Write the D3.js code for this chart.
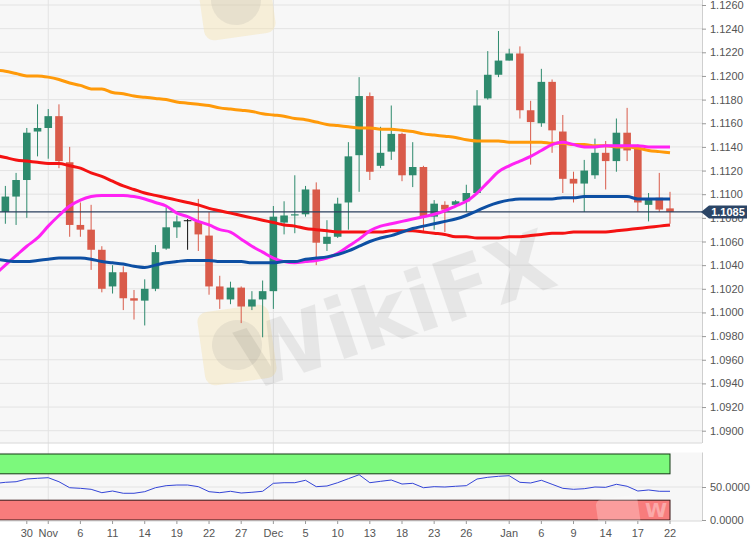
<!DOCTYPE html>
<html>
<head>
<meta charset="utf-8">
<script src="https://cdn.jsdelivr.net/npm/d3@7"></script>
<style>
  body { margin: 0; background: #fff; }
  svg { display: block; font-family: "Liberation Sans", Arial, sans-serif; }
</style>
</head>
<body>
<div id="chart"></div>
<script>
// daily dates (first one only feeds the averages, candles start on Oct 28)
const dates = [
  "2019-10-25","2019-10-28","2019-10-29","2019-10-30","2019-10-31","2019-11-01",
  "2019-11-04","2019-11-05","2019-11-06","2019-11-07","2019-11-08",
  "2019-11-11","2019-11-12","2019-11-13","2019-11-14","2019-11-15",
  "2019-11-18","2019-11-19","2019-11-20","2019-11-21","2019-11-22",
  "2019-11-25","2019-11-26","2019-11-27","2019-11-28","2019-11-29",
  "2019-12-02","2019-12-03","2019-12-04","2019-12-05","2019-12-06",
  "2019-12-09","2019-12-10","2019-12-11","2019-12-12","2019-12-13",
  "2019-12-16","2019-12-17","2019-12-18","2019-12-19","2019-12-20",
  "2019-12-23","2019-12-24","2019-12-25","2019-12-26","2019-12-27",
  "2019-12-30","2019-12-31","2020-01-01","2020-01-02","2020-01-03",
  "2020-01-06","2020-01-07","2020-01-08","2020-01-09","2020-01-10",
  "2020-01-13","2020-01-14","2020-01-15","2020-01-16","2020-01-17",
  "2020-01-20","2020-01-21","2020-01-22"
];
const candleDates = dates.slice(1);

const opens = [1.1085,1.1098,1.1112,1.1153,1.1156,1.1166,1.1127,1.1074,1.1070,1.1053,
  1.1022,1.1034,1.1012,1.1010,1.1020,1.1054,1.1072,1.1078,1.1077,1.1065,
  1.1022,1.1011,1.1021,1.1005,1.1011,1.1018,1.1076,1.1082,1.1083,1.1104,
  1.1058,1.1064,1.1093,1.1133,1.1183,1.1124,1.1136,1.1151,1.1116,1.1123,
  1.1081,1.1091,1.1091,1.1094,1.1101,1.1181,1.1201,1.1213,1.1219,1.1171,
  1.1160,1.1195,1.1153,1.1113,1.1109,1.1116,1.1135,1.1128,1.1152,1.1139,
  1.1091,1.1097,1.1088];
const highs = [1.1107,1.1118,1.1156,1.1176,1.1172,1.1176,1.1140,1.1093,1.1091,1.1056,
  1.1040,1.1039,1.1019,1.1028,1.1057,1.1089,1.1082,1.1079,1.1096,1.1085,
  1.1031,1.1026,1.1022,1.1018,1.1027,1.1090,1.1094,1.1116,1.1107,1.1110,
  1.1078,1.1097,1.1144,1.1199,1.1186,1.1157,1.1175,1.1152,1.1144,1.1124,
  1.1095,1.1094,1.1095,1.1108,1.1188,1.1221,1.1238,1.1223,1.1225,1.1179,
  1.1206,1.1197,1.1167,1.1119,1.1129,1.1147,1.1145,1.1164,1.1173,1.1142,
  1.1101,1.1118,1.1102];
const lows = [1.1075,1.1074,1.1080,1.1132,1.1130,1.1122,1.1064,1.1064,1.1036,1.1017,
  1.1016,1.1002,1.0994,1.0989,1.1018,1.1053,1.1063,1.1053,1.1052,1.1015,
  1.1003,1.1007,1.0991,1.1002,1.0979,1.1003,1.1066,1.1067,1.1081,1.1040,
  1.1052,1.1063,1.1070,1.1102,1.1112,1.1122,1.1129,1.1111,1.1106,1.1068,
  1.1070,1.1068,1.1090,1.1085,1.1100,1.1180,1.1199,1.1213,1.1164,1.1125,
  1.1157,1.1135,1.1101,1.1093,1.1085,1.1113,1.1104,1.1119,1.1128,1.1085,
  1.1077,1.1085,1.1075];
const closes = [1.1098,1.1112,1.1152,1.1156,1.1166,1.1128,1.1074,1.1070,1.1053,1.1020,
  1.1034,1.1012,1.1010,1.1020,1.1051,1.1072,1.1077,1.1078,1.1066,1.1022,
  1.1011,1.1021,1.1005,1.1011,1.1018,1.1081,1.1082,1.1083,1.1104,1.1059,
  1.1064,1.1092,1.1132,1.1183,1.1119,1.1135,1.1151,1.1116,1.1123,1.1081,
  1.1092,1.1087,1.1094,1.1101,1.1175,1.1201,1.1213,1.1219,1.1171,1.1161,
  1.1195,1.1154,1.1113,1.1109,1.1120,1.1135,1.1128,1.1152,1.1137,1.1093,
  1.1096,1.1087,1.1085];

// moving averages, one value per date
const sma200 = [1.1205,1.1204,1.1202,1.1200,1.1200,1.1199,1.1197,1.1194,1.1192,1.1189,1.1189,
  1.1186,1.1185,1.1183,1.1182,1.1181,1.1180,1.1178,1.1177,1.1176,1.1175,
  1.1173,1.1172,1.1171,1.1170,1.1168,1.1167,1.1166,1.1164,1.1163,1.1161,
  1.1159,1.1158,1.1157,1.1156,1.1156,1.1155,1.1155,1.1154,1.1153,1.1151,
  1.1150,1.1149,1.1148,1.1146,1.1145,1.1145,1.1145,1.1144,1.1144,1.1144,
  1.1144,1.1143,1.1143,1.1142,1.1142,1.1141,1.1141,1.1140,1.1140,1.1139,
  1.1137,1.1136,1.1135];
const sma100 = [1.1133,1.1131,1.1129,1.1128,1.1127,1.1126,1.1126,1.1124,1.1122,1.1118,1.1115,
  1.1111,1.1107,1.1104,1.1101,1.1099,1.1097,1.1095,1.1093,1.1091,1.1088,
  1.1086,1.1084,1.1082,1.1080,1.1078,1.1076,1.1074,1.1073,1.1071,1.1070,
  1.1069,1.1068,1.1068,1.1068,1.1068,1.1068,1.1069,1.1069,1.1069,1.1068,
  1.1067,1.1066,1.1064,1.1064,1.1063,1.1063,1.1063,1.1064,1.1064,1.1065,
  1.1066,1.1067,1.1067,1.1068,1.1068,1.1068,1.1068,1.1069,1.1070,1.1071,
  1.1072,1.1073,1.1074];
const sma50 = [1.1045,1.1044,1.1043,1.1043,1.1044,1.1045,1.1046,1.1046,1.1046,1.1045,1.1043,
  1.1042,1.1041,1.1039,1.1038,1.1040,1.1042,1.1043,1.1044,1.1044,1.1044,
  1.1043,1.1043,1.1043,1.1042,1.1042,1.1042,1.1043,1.1043,1.1045,1.1046,
  1.1047,1.1049,1.1052,1.1056,1.1060,1.1063,1.1065,1.1068,1.1071,1.1073,
  1.1075,1.1077,1.1079,1.1082,1.1086,1.1090,1.1093,1.1095,1.1096,1.1096,
  1.1096,1.1096,1.1097,1.1097,1.1098,1.1098,1.1098,1.1098,1.1098,1.1096,
  1.1096,1.1096,1.1096];
const sma20 = [1.1032,1.1040,1.1048,1.1056,1.1063,1.1073,1.1082,1.1090,1.1095,1.1098,1.1099,
  1.1099,1.1099,1.1098,1.1096,1.1093,1.1090,1.1084,1.1081,1.1077,1.1074,
  1.1070,1.1068,1.1062,1.1056,1.1051,1.1046,1.1043,1.1042,1.1043,1.1044,
  1.1046,1.1050,1.1056,1.1062,1.1069,1.1073,1.1075,1.1077,1.1079,1.1081,
  1.1083,1.1086,1.1090,1.1094,1.1101,1.1110,1.1119,1.1124,1.1128,1.1132,
  1.1137,1.1142,1.1144,1.1142,1.1140,1.1140,1.1141,1.1141,1.1141,1.1141,
  1.1140,1.1140,1.1140];

// RSI, one value per date
const rsi = [55.3,57.1,58.0,62.1,63.2,64.1,58.0,48.9,48.0,46.5,41.4,
  43.9,40.5,40.5,42.9,48.9,52.0,53.0,53.0,50.5,42.9,
  41.4,43.5,40.9,42.0,43.5,55.6,56.5,56.5,60.2,50.5,
  51.5,56.5,62.6,68.6,56.5,58.6,60.6,54.5,55.6,48.9,
  50.5,50.0,51.1,52.0,62.1,64.7,66.2,67.1,57.1,56.1,
  60.2,54.1,48.0,46.5,47.4,50.0,49.5,54.1,51.1,43.9,
  45.5,43.5,43.5];

const priceTicks = [1.0900,1.0920,1.0940,1.0960,1.0980,1.1000,1.1020,1.1040,1.1060,1.1080,
  1.1100,1.1120,1.1140,1.1160,1.1180,1.1200,1.1220,1.1240,1.1260];
const rsiTicks = [0, 50];
const tickDates = ["2019-10-30","2019-11-01","2019-11-06","2019-11-11","2019-11-14","2019-11-19",
  "2019-11-22","2019-11-27","2019-12-02","2019-12-05","2019-12-10","2019-12-13","2019-12-18",
  "2019-12-23","2019-12-26","2020-01-01","2020-01-06","2020-01-09","2020-01-14","2020-01-17","2020-01-22"];
const tickLabels = ["30","Nov","6","11","14","19","22","27","Dec","5","10","13","18",
  "23","26","Jan","6","9","14","17","22"];
const monthStarts = ["2019-11-01","2019-12-02","2020-01-01"];
const lastPrice = 1.1085;

const W = 756, H = 545;
const plotRight = 702;
const mainTop = 0, mainBottom = 443;
const lowTop = 452.5, lowBottom = 521;
const step = 10.72;

const svg = d3.select("#chart").append("svg")
  .attr("width", W)
  .attr("height", H);

const x = d3.scaleBand()
  .domain(dates)
  .range([-step, (dates.length - 1) * step])
  .padding(0);
const cx = d => x(d) + x.bandwidth() / 2;

const y = d3.scaleLinear().domain([1.0900, 1.1260]).range([430.7, 5]);
const yr = d3.scaleLinear().domain([0, 100]).range([520, 454]);

const defs = svg.append("defs");
defs.append("clipPath").attr("id", "clipMain")
  .append("rect").attr("x", 0).attr("y", mainTop).attr("width", plotRight).attr("height", mainBottom - mainTop);
defs.append("clipPath").attr("id", "clipLow")
  .append("rect").attr("x", 0).attr("y", lowTop).attr("width", plotRight).attr("height", lowBottom - lowTop);

// panel backgrounds
svg.append("rect").attr("x", 0).attr("y", mainTop).attr("width", plotRight)
  .attr("height", mainBottom - mainTop).attr("fill", "#f7f7f7");
svg.append("rect").attr("x", 0).attr("y", lowTop).attr("width", plotRight)
  .attr("height", lowBottom - lowTop).attr("fill", "#f7f7f7");

// grid
svg.append("g").selectAll("line").data(priceTicks).enter().append("line")
  .attr("x1", 0).attr("x2", plotRight)
  .attr("y1", d => y(d)).attr("y2", d => y(d))
  .attr("stroke", "#e3e3e3").attr("stroke-width", 1);
svg.append("line").attr("x1", 0).attr("x2", plotRight)
  .attr("y1", yr(50)).attr("y2", yr(50)).attr("stroke", "#e3e3e3");
svg.append("g").selectAll("line").data(monthStarts).enter().append("line")
  .attr("x1", cx).attr("x2", cx)
  .attr("y1", mainTop).attr("y2", lowBottom)
  .attr("stroke", "#e3e3e3").attr("stroke-width", 1);
svg.append("line").attr("x1", 0).attr("x2", plotRight)
  .attr("y1", mainBottom).attr("y2", mainBottom).attr("stroke", "#d8d8d8");

// watermark
const wm = svg.append("g").attr("clip-path", "url(#clipMain)");
[[237, 345], [236, 0]].forEach(p => {
  const g = wm.append("g").attr("transform", `translate(${p[0]},${p[1]}) rotate(-8)`);
  g.append("rect").attr("x", -36).attr("y", -37).attr("width", 72).attr("height", 74)
    .attr("rx", 10).attr("fill", "#f3e2b2").attr("opacity", 0.45);
  g.append("circle").attr("r", 25).attr("fill", "#8c8c8c").attr("opacity", 0.14);
});
wm.append("text")
  .attr("transform", "translate(405,338) rotate(-19)")
  .attr("text-anchor", "middle")
  .attr("font-family", "DejaVu Sans")
  .attr("font-weight", "bold")
  .attr("font-size", 84)
  .attr("fill", "#000")
  .attr("opacity", 0.062)
  .text("WikiFX");

const candles = candleDates.map((d, i) => ({
  date: d, o: opens[i], h: highs[i], l: lows[i], c: closes[i]
}));
const candleColor = d => d.c > d.o ? "#2e8a6d" : (d.c < d.o ? "#d95b4a" : "#111");
const bw = 7.6;

const main = svg.append("g").attr("clip-path", "url(#clipMain)");

// wicks
main.selectAll(".wick").data(candles).enter().append("line")
  .attr("class", "wick")
  .attr("x1", d => cx(d.date)).attr("x2", d => cx(d.date))
  .attr("y1", d => y(d.h)).attr("y2", d => y(d.l))
  .attr("stroke", candleColor).attr("stroke-width", 1);

// bodies
main.selectAll(".body").data(candles).enter().append("rect")
  .attr("class", "body")
  .attr("x", d => cx(d.date) - bw / 2)
  .attr("width", bw)
  .attr("y", d => y(Math.max(d.o, d.c)))
  .attr("height", d => Math.max(1, Math.abs(y(d.o) - y(d.c))))
  .attr("fill", candleColor);

// last price line
main.append("line").attr("x1", 0).attr("x2", plotRight)
  .attr("y1", y(lastPrice)).attr("y2", y(lastPrice))
  .attr("stroke", "#2a3f5e").attr("stroke-width", 1.2);

// moving averages
const line = d3.line()
  .x((d, i) => cx(dates[i]))
  .y(d => y(d))
  .curve(d3.curveMonotoneX);
[[sma200, "#ff9a0a"], [sma100, "#f41212"], [sma20, "#ff22f4"], [sma50, "#0d4fa3"]].forEach(s => {
  main.append("path").datum(s[0])
    .attr("d", line)
    .attr("fill", "none")
    .attr("stroke", s[1])
    .attr("stroke-width", 3)
    .attr("stroke-linejoin", "round");
});

// right price axis
const yAxis = svg.append("g")
  .attr("transform", `translate(${plotRight},0)`)
  .call(d3.axisRight(y).tickValues(priceTicks).tickFormat(d3.format(".4f")).tickSize(4).tickPadding(4));
yAxis.select(".domain").attr("stroke", "#cfcfcf").attr("d", `M0.5,${mainTop}V${mainBottom}`);

// last price label
const ly = y(lastPrice);
svg.append("path")
  .attr("d", `M${plotRight - 1},${ly}L${plotRight + 7},${ly - 6.5}H${plotRight + 45}V${ly + 6.5}H${plotRight + 7}Z`)
  .attr("fill", "#2b4566");
svg.append("text")
  .attr("x", plotRight + 26).attr("y", ly + 4)
  .attr("text-anchor", "middle")
  .attr("font-size", 11).attr("font-weight", "bold")
  .attr("fill", "#fff")
  .text(d3.format(".4f")(lastPrice));

// lower panel: RSI
const low = svg.append("g").attr("clip-path", "url(#clipLow)");
const lastX = cx(candleDates[candleDates.length - 1]);
low.append("rect").attr("x", -1).attr("width", lastX + 1)
  .attr("y", yr(100)).attr("height", yr(70) - yr(100))
  .attr("fill", "#7cf97c").attr("stroke", "#163a16").attr("stroke-width", 1);
low.append("rect").attr("x", -1).attr("width", lastX + 1)
  .attr("y", yr(30)).attr("height", yr(0) - yr(30))
  .attr("fill", "#f87c7c").attr("stroke", "#3a1616").attr("stroke-width", 1);

// faint watermark on the lower panel
low.append("rect").attr("x", 598).attr("y", 497).attr("width", 42).attr("height", 44)
  .attr("rx", 6).attr("fill", "#fff").attr("opacity", 0.25)
  .attr("transform", "rotate(-8,619,519)");
low.append("text").attr("x", 645).attr("y", 517)
  .attr("font-family", "DejaVu Sans").attr("font-weight", "bold").attr("font-size", 20)
  .attr("fill", "#fff").attr("opacity", 0.35).text("W");

const rsiLine = d3.line()
  .x((d, i) => cx(dates[i]))
  .y(d => yr(d));
low.append("path").datum(rsi)
  .attr("d", rsiLine)
  .attr("fill", "none")
  .attr("stroke", "#3344d6")
  .attr("stroke-width", 1);

const rAxis = svg.append("g")
  .attr("transform", `translate(${plotRight},0)`)
  .call(d3.axisRight(yr).tickValues(rsiTicks).tickFormat(d3.format(".4f")).tickSize(4).tickPadding(4));
rAxis.select(".domain").attr("stroke", "#cfcfcf").attr("d", `M0.5,${lowTop}V${lowBottom}`);
svg.append("line").attr("x1", 0).attr("x2", plotRight)
  .attr("y1", lowBottom).attr("y2", lowBottom).attr("stroke", "#d8d8d8");

// bottom date axis
const xAxis = svg.append("g")
  .attr("transform", `translate(0,${lowBottom})`)
  .call(d3.axisBottom(x).tickValues(tickDates).tickFormat((d, i) => tickLabels[i]).tickSize(3).tickPadding(5));
xAxis.select(".domain").remove();

[yAxis, rAxis, xAxis].forEach(a => {
  a.selectAll("text").attr("font-size", 11).attr("fill", "#555")
    .attr("font-family", "Liberation Sans, Arial, sans-serif");
  a.selectAll(".tick line").attr("stroke", "#999");
});
</script>
</body>
</html>
